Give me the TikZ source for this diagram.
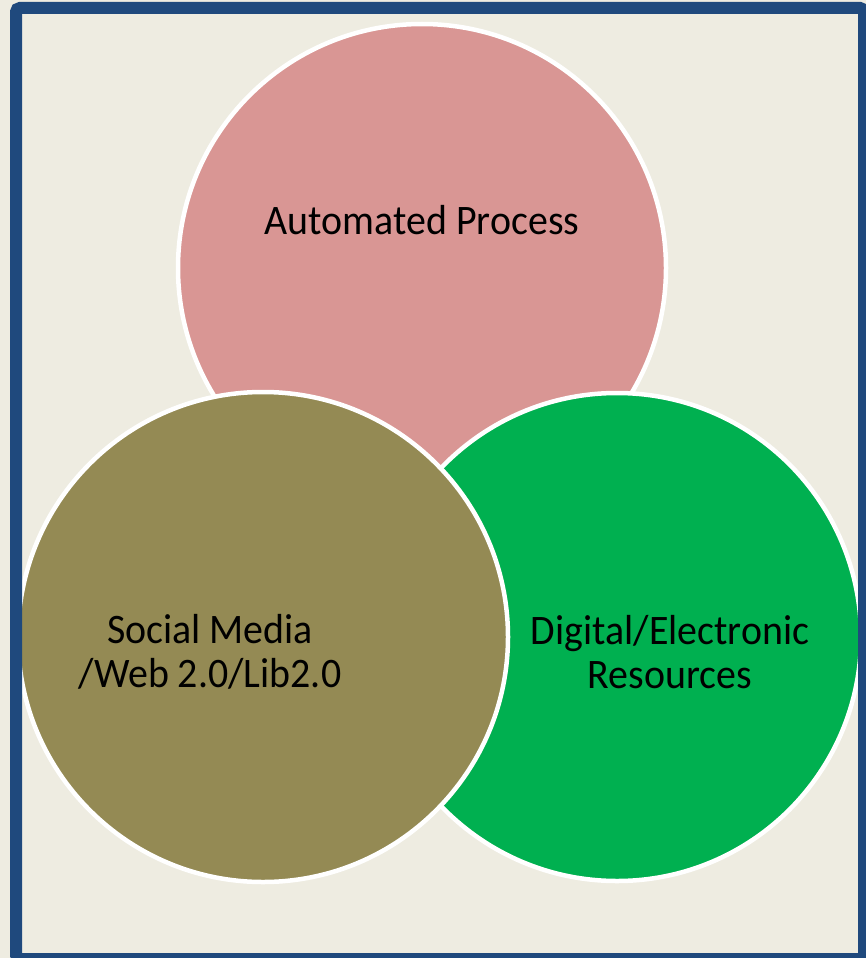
\documentclass[tikz,border=0pt]{standalone}
\usepackage{fontspec}
\setmainfont{Carlito}[FakeStretch=0.95]
\definecolor{bgbeige}{HTML}{EEECE1}
\definecolor{frameblue}{HTML}{1F497D}
\definecolor{pinkfill}{HTML}{D99694}
\definecolor{olivefill}{HTML}{948A54}
\definecolor{greenfill}{HTML}{00B050}
\tikzset{
  venn/.style={draw=white, line width=4.5pt},
  lbl/.style={font=\fontsize{42}{44}\selectfont, align=center, text=black, inner sep=0pt},
}
\begin{document}
\begin{tikzpicture}[x=1pt,y=-1pt]
\useasboundingbox (0,0) rectangle (866,958);
\fill[bgbeige] (0,0) rectangle (866,958);
\path[venn, fill=pinkfill] (422,268) circle[radius=244];
\path[venn, fill=greenfill] (617,637) circle[radius=244];
\path[venn, fill=olivefill] (263,637) circle[radius=245];
\draw[frameblue, line width=12pt, rounded corners=4pt] (16,8) rectangle (864,959);
\node[lbl] (ap) at (422,220) {Automated Process};
\node[lbl] (sm) at (210,652) {Social Media\\/Web 2.0/Lib2.0};
\node[lbl] (de) at (670,652) {Digital/Electronic\\Resources};
\end{tikzpicture}
\end{document}
